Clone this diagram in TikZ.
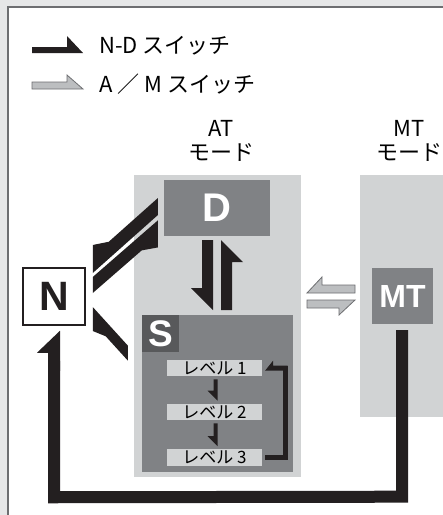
\documentclass[tikz,border=0pt]{standalone}
\usepackage{fontspec}
\setmainfont{Noto Sans CJK JP}
\newfontfamily\heavyfont{Liberation Sans}
\usetikzlibrary{calc}
\definecolor{bggray}{HTML}{E6E7E8}
\definecolor{framegray}{HTML}{6D6E71}
\definecolor{zonegray}{HTML}{D1D3D4}
\definecolor{boxgray}{HTML}{808285}
\definecolor{sgray}{HTML}{58595B}
\definecolor{arrgray}{HTML}{BCBEC0}
\definecolor{inkblack}{HTML}{231F20}
% harpoon: [style]{from}{to}{barb side angle}{shaft width}{head length}{barb}
\newcommand{\harp}[7][]{%
  \pgfmathsetmacro\hs{#4}
  \pgfmathsetmacro\hn{-(#4)}
  \pgfmathsetlengthmacro\hw{#5pt/2}
  \pgfmathsetlengthmacro\hb{#5pt/2+#7pt}
  \coordinate (hk) at ($(#3)!#6pt!(#2)$);
  \path[fill=inkblack,#1] ($(#2)!\hw!\hn:(#3)$) -- ($(#3)!\hw!\hs:(#2)$)
    -- ($(hk)!\hb!\hs:(#3)$) -- ($(hk)!\hw!\hs:(#3)$)
    -- ($(#2)!\hw!\hs:(#3)$) -- cycle;
}
\tikzset{
  lbl/.style={font=\fontsize{22}{24}\selectfont, inner sep=0, align=center},
  boxlbl/.style={fill=boxgray, text=white, inner sep=0,
    font=\heavyfont\bfseries\fontsize{40}{40}\selectfont},
  lvl/.style={fill=zonegray, minimum width=95pt, minimum height=16.5pt,
    inner sep=0, font=\fontsize{17}{17}\selectfont},
  grayarr/.style={fill=arrgray, draw=framegray, line width=0.8pt},
}
\begin{document}
\begin{tikzpicture}[x=1pt, y=-1pt]
\useasboundingbox (0,0) rectangle (443,515);
\fill[bggray] (0,0) rectangle (443,515);
\draw[fill=white, draw=framegray, line width=1.5pt] (8,7) rectangle (460,530);

% legend
\node[lbl, anchor=west] (ndkey) at (99,46) {N-D スイッチ};
\node[lbl, anchor=west] (amkey) at (99,84) {A ／ M スイッチ};
\coordinate (nd1) at (32,50);
\coordinate (nd2) at (83,50);
\coordinate (am1) at (32,85.5);
\coordinate (am2) at (83,85.5);
\harp{nd1}{nd2}{90}{6}{16}{11}
\harp[grayarr]{am1}{am2}{90}{7}{16}{7}

% mode zones
\fill[zonegray] (134,175) rectangle (301,477);
\fill[zonegray] (360,175) rectangle (450,417);
\node[lbl] (attitle) at (221,141) {AT\\モード};
\node[lbl] (mttitle) at (409,141) {MT\\モード};

% boxes
\node[boxlbl, minimum width=106pt, minimum height=56pt] (D) at (217,208) {D};
\node[fill=boxgray, minimum width=151pt, minimum height=157pt, inner sep=0]
  (Sbox) at (217.5,393.5) {};
\node[boxlbl, fill=sgray, minimum size=37pt, anchor=north west,
  font=\heavyfont\bfseries\fontsize{37}{37}\selectfont] (S) at (Sbox.north west) {S};
\node[lvl] (lv1) at (214.5,368) {レベル 1};
\node[lvl] (lv2) at (214.5,412) {レベル 2};
\node[lvl] (lv3) at (214.5,457.5) {レベル 3};
\node[boxlbl, minimum width=61pt, minimum height=56pt,
  font=\heavyfont\bfseries\fontsize{32}{32}\selectfont] (MT) at (402.5,296) {MT};
\node[draw=inkblack, line width=1.5pt, fill=white, minimum width=62pt,
  minimum height=57pt, inner sep=0, text=inkblack,
  font=\heavyfont\bfseries\fontsize{41}{41}\selectfont] (N) at (54,296.5) {N};

% D <-> S
\coordinate (ds1) at ($(D.south)+(-9.5,4)$);
\coordinate (ds2) at ($(D.south)+(-9.5,74)$);
\coordinate (sd1) at ($(D.south)+(9.5,74)$);
\coordinate (sd2) at ($(D.south)+(9.5,4)$);
\harp{ds1}{ds2}{-90}{11}{22}{11}
\harp{sd1}{sd2}{-90}{11}{22}{11}

% levels
\coordinate (l12a) at ($(lv1.south)+(1,3)$);
\coordinate (l12b) at ($(lv2.north)+(1,-3)$);
\coordinate (l23a) at ($(lv2.south)+(1,3)$);
\coordinate (l23b) at ($(lv3.north)+(1,-3)$);
\harp{l12a}{l12b}{-90}{4}{10}{6}
\harp{l23a}{l23b}{-90}{4}{10}{6}
\draw[inkblack, line width=5pt] ($(lv3.east)+(3,0)$) -- ($(lv3.east)+(23,0)$)
  -- ($(lv1.east)+(23,-2.5)$);
\coordinate (lp1) at ($(lv1.east)+(25.5,0)$);
\coordinate (lp2) at ($(lv1.east)+(3,0)$);
\harp{lp1}{lp2}{-90}{5}{8}{5}

% to N and back (slanted harpoons)
\coordinate (dn) at ($(N.east)+(7,-40.5)$);
\coordinate (nd) at ($(N.east)+(7,-19.5)$);
\coordinate (sn) at ($(N.east)+(7,10.5)$);
\begin{scope}[shift={(dn)}, yslant=0.89]
  \fill[inkblack] (0,-11) -- (0,17) -- (65,17) -- (65,0) -- (16,0) -- cycle;
\end{scope}
\begin{scope}[shift={(nd)}, yslant=0.87]
  \fill[inkblack] (0,0) -- (0,16) -- (49,16) -- (65,27) -- (65,0) -- cycle;
\end{scope}
\begin{scope}[shift={(sn)}, yslant=-1.1]
  \fill[inkblack] (0,0) -- (35,0) -- (35,15) -- (13,15) -- (0,24) -- cycle;
\end{scope}

% AT <-> MT
\coordinate (am3) at (355,289);
\coordinate (am4) at (307,289);
\coordinate (am5) at (307,304);
\coordinate (am6) at (355,304);
\harp[grayarr]{am3}{am4}{-90}{8}{15}{8}
\harp[grayarr]{am5}{am6}{-90}{8}{16}{7}

% MT -> N
\draw[inkblack, line width=12pt] ($(MT.south)+(-0.5,6)$) -- ($(MT.south)+(-0.5,172.5)$)
  -- ($(N.south)+(0,171.5)$) -- ($(N.south)+(0,35)$);
\coordinate (mn1) at ($(N.south)+(0,45)$);
\coordinate (mn2) at ($(N.south)+(0,5)$);
\harp{mn1}{mn2}{90}{12}{22}{11}
\end{tikzpicture}
\end{document}
